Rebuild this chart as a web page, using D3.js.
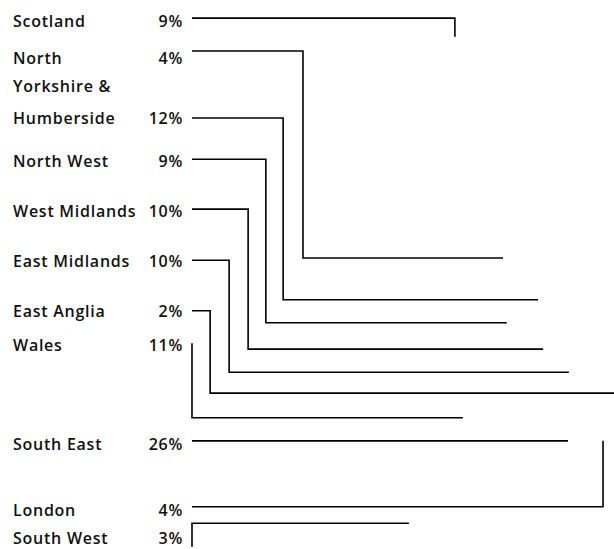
<!DOCTYPE html>
<html>
<head>
<meta charset="utf-8">
<script src="https://cdn.jsdelivr.net/npm/d3@7"></script>
<style>
  body { margin: 0; background: #fff; }
  text { font-family: "Open Sans", sans-serif; font-size: 16px; font-weight: 600; letter-spacing: 0.75px; fill: #111; }
</style>
</head>
<body>
<svg width="614" height="549"></svg>
<script>
// regions, shares and the branch values
var regions = ["Scotland", "North", "Yorkshire & Humberside", "North West", "West Midlands",
    "East Midlands", "East Anglia", "Wales", "South East", "London", "South West"];
var labelLines = [["Scotland"], ["North"], ["Yorkshire &", "Humberside"], ["North West"], ["West Midlands"],
    ["East Midlands"], ["East Anglia"], ["Wales"], ["South East"], ["London"], ["South West"]];
var shares = [9, 4, 12, 9, 10, 10, 2, 11, 26, 4, 3];
// row of each label (0 = top, 100 = bottom)
var labelRow = [3.8, 10.6, 21.5, 29.3, 38.4, 47.5, 56.6, 62.8, 80.9, 92.9, 98.0];
// branch: leaf row, elbow distance, joined row, end distance
var leafRow = [3.3, 9.3, 21.5, 29.0, 38.1, 47.4, 56.6, 62.5, 80.3, 92.3, 99.6];
var elbow   = [62.3, 26.3, 21.6, 17.5, 13.3, 8.8, 4.3, 0, 89.1, 97.4, 0];
var joinRow = [6.7, 47.0, 54.6, 58.8, 63.6, 67.8, 71.6, 76.1, 80.3, 80.3, 95.3];
var reach   = [62.3, 73.7, 82.0, 74.6, 83.2, 89.3, 100, 64.2, 89.1, 97.4, 51.4];

var x = d3.scaleLinear().domain([0, 100]).range([192, 614]);
var y = d3.scaleLinear().domain([0, 100]).range([0, 549]);

var data = regions.map(function(r, i) {
    return {name: r, lines: labelLines[i], share: shares[i], row: labelRow[i],
            leaf: leafRow[i], elbow: elbow[i], join: joinRow[i], reach: reach[i]};
});

var svg = d3.select("svg");

var branch = d3.line()
    .x(function(d) { return x(d[0]); })
    .y(function(d) { return y(d[1]); });

svg.selectAll(".branch")
  .data(data)
  .enter().append("path")
    .attr("class", "branch")
    .attr("fill", "none")
    .attr("stroke", "#000")
    .attr("stroke-width", 1.6)
    .attr("d", function(d) {
        return branch([[0, d.leaf], [d.elbow, d.leaf], [d.elbow, d.join], [d.reach, d.join]]);
    });

var labels = svg.selectAll(".label")
  .data(data)
  .enter().append("text")
    .attr("class", "label")
    .attr("x", 13)
    .attr("dominant-baseline", "central");

labels.selectAll("tspan")
  .data(function(d) {
      return d.lines.map(function(t, j) {
          return {t: t, off: j - (d.lines.length - 1), row: d.row};
      });
  })
  .enter().append("tspan")
    .attr("x", 13)
    .attr("y", function(o) { return y(o.row) + o.off * 32; })
    .text(function(o) { return o.t; });

svg.selectAll(".share")
  .data(data)
  .enter().append("text")
    .attr("class", "share")
    .attr("x", 183)
    .attr("y", function(d) { return y(d.row); })
    .attr("text-anchor", "end")
    .attr("dominant-baseline", "central")
    .text(function(d) { return d.share + "%"; });
</script>
</body>
</html>
